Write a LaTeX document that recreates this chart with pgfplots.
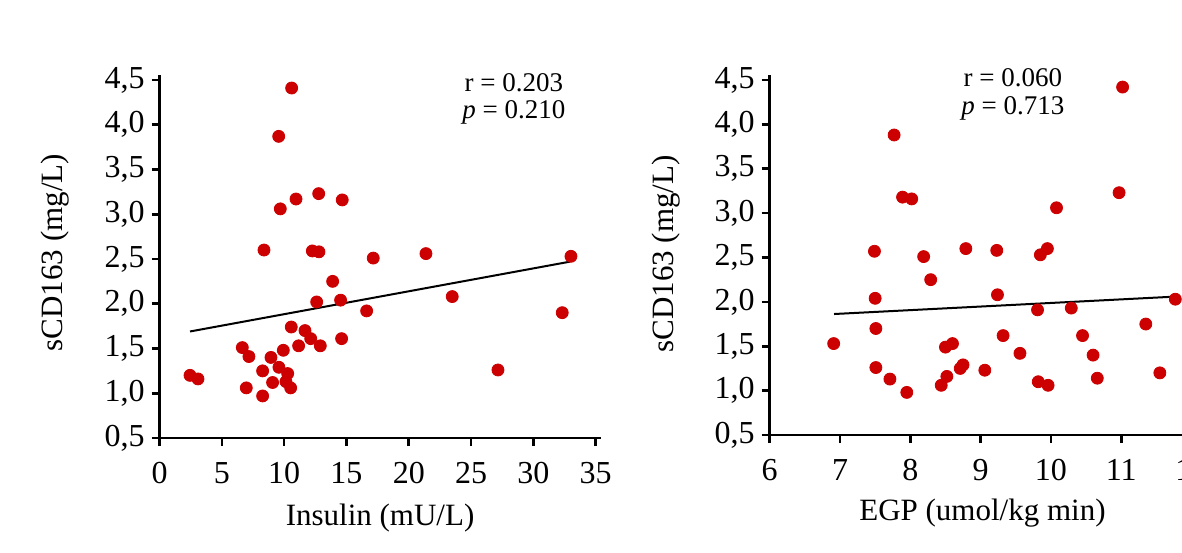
\documentclass[border=0pt]{standalone}
\usepackage{fontspec}
\setmainfont{Liberation Serif}
\usepackage{pgfplots}
\pgfplotsset{compat=1.18}
\definecolor{dotred}{RGB}{204,0,0}
\pgfplotsset{
  myax/.style={
    scale only axis,
    axis x line=bottom, axis y line=left,
    axis line style={-, line width=1.3pt},
    major tick style={black, line width=1.3pt},
    tick align=outside,
    major tick length=4pt,
    ymin=0.5,
    ytick={0.5,1.0,1.5,2.0,2.5,3.0,3.5,4.0,4.5},
    /pgf/number format/assume math mode=true,
    yticklabel style={/pgf/number format/.cd, use comma, fixed, fixed zerofill, precision=1},
    xticklabel style={yshift=-4.5pt},
    tick label style={font=\fontsize{16}{19}\selectfont},
    label style={font=\fontsize{15.5}{18}\selectfont},
    clip=false,
  },
  dots/.style={only marks, mark=*, mark size=3pt, color=dotred, mark options={draw=dotred, fill=dotred}},
  reg/.style={black, line width=1pt, no marks},
}
\pgfplotstableread{
x y
10.6 4.41
9.56 3.87
9.69 3.06
10.95 3.17
12.77 3.23
14.66 3.16
8.38 2.60
12.26 2.59
12.79 2.58
17.15 2.51
21.38 2.56
13.89 2.25
12.61 2.02
14.53 2.04
33.02 2.53
16.62 1.92
23.49 2.08
32.32 1.90
27.16 1.26
10.57 1.74
11.67 1.70
12.13 1.61
11.16 1.53
12.90 1.53
14.61 1.61
6.64 1.51
7.17 1.41
8.94 1.40
9.93 1.48
9.58 1.29
10.28 1.22
8.27 1.25
2.44 1.20
3.08 1.16
10.14 1.13
10.52 1.06
9.07 1.12
6.96 1.06
8.27 0.97
}\insulin
\pgfplotstableread{
x y
7.77 3.88
7.89 3.18
8.02 3.16
7.49 2.57
8.19 2.51
8.79 2.60
8.29 2.25
7.50 2.04
6.91 1.53
7.51 1.70
7.51 1.26
7.71 1.13
7.95 0.98
8.50 1.49
8.60 1.53
8.71 1.25
8.75 1.29
8.52 1.16
8.44 1.06
11.02 4.42
10.97 3.23
10.08 3.06
9.23 2.58
9.95 2.60
9.85 2.53
9.24 2.08
9.81 1.91
10.29 1.93
11.77 2.03
11.35 1.75
9.32 1.62
10.45 1.62
9.56 1.42
10.60 1.40
9.06 1.23
11.55 1.20
10.66 1.14
9.82 1.10
9.96 1.06
}\egp
\begin{document}
\begin{tikzpicture}
\begin{axis}[myax,
  at={(79.8pt,57pt)}, anchor=south west,
  width=220.5pt, height=181.7pt,
  xmin=0, xmax=35.4, ymax=4.56,
  xtick={0,5,...,35},
  xlabel={Insulin (mU/L)},
  ylabel={sCD163 (mg/L)},
  xlabel style={at={(axis description cs:0.5,-0.22)}, anchor=center},
  ylabel style={at={(axis description cs:-0.236,0.51)}, anchor=center, rotate=0},
]
\addplot[reg] coordinates {(2.44,1.69) (32.94,2.47)};
\addplot[dots] table[x=x,y=y] {\insulin};
\node[anchor=base, font=\fontsize{13.5}{16}\selectfont] at (axis cs:28.44,4.369) {r = 0.203};
\node[anchor=base, font=\fontsize{13.5}{16}\selectfont] at (axis cs:28.44,4.072) {\textit{p} = 0.210};
\end{axis}
\begin{axis}[myax,
  at={(384.85pt,58.5pt)}, anchor=south west,
  width=210.9pt, height=180pt,
  xmin=6, xmax=12, ymax=4.556,
  xtick={6,7,...,12},
  xlabel={EGP (umol/kg min)},
  ylabel={sCD163 (mg/L)},
  xlabel style={at={(axis description cs:0.5045,-0.218)}, anchor=center},
  ylabel style={at={(axis description cs:-0.245,0.503)}, anchor=center, rotate=0},
]
\addplot[reg] coordinates {(6.915,1.863) (11.74,2.058)};
\addplot[dots] table[x=x,y=y] {\egp};
\node[anchor=base, font=\fontsize{13.5}{16}\selectfont] at (axis cs:9.46,4.425) {r = 0.060};
\node[anchor=base, font=\fontsize{13.5}{16}\selectfont] at (axis cs:9.46,4.106) {\textit{p} = 0.713};
\end{axis}
\pgfresetboundingbox
\useasboundingbox (0,0) rectangle (591pt,276pt);
\end{tikzpicture}
\end{document}
